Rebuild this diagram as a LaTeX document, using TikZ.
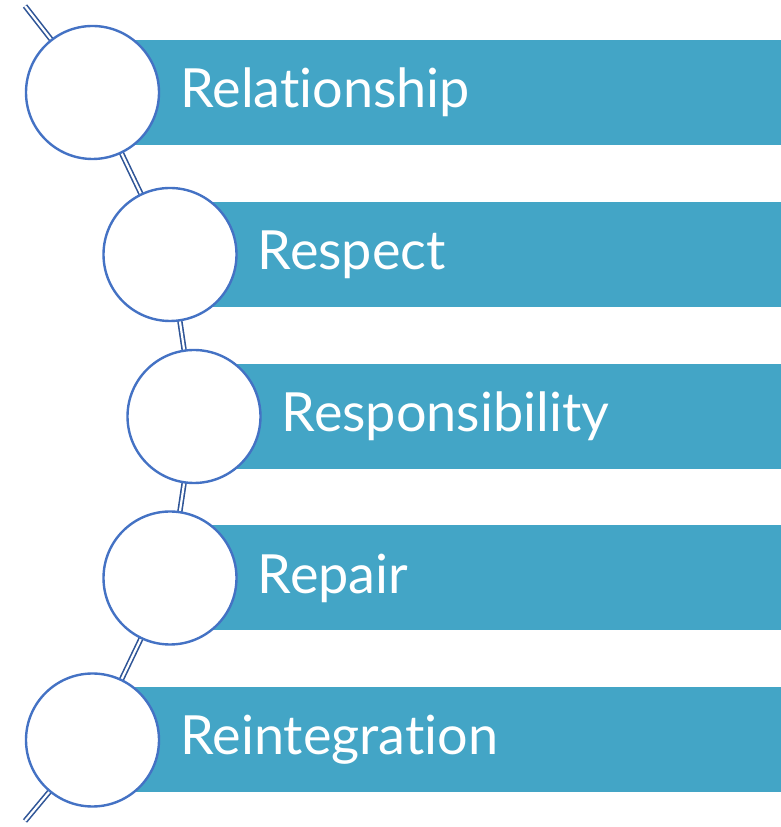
\documentclass[tikz,border=0pt]{standalone}
\usepackage{fontspec}
\setmainfont[Ligatures=NoCommon]{Lato}
\usepackage{xcolor}
\usepackage{tikz}
\usetikzlibrary{positioning, backgrounds}
\definecolor{bandteal}{RGB}{67,165,198}
\definecolor{beadblue}{RGB}{68,114,196}
\definecolor{chainblue}{RGB}{47,85,151}
\tikzset{
    band/.style={rectangle, fill=bandteal, draw=none, anchor=west, minimum height=105pt, inner sep=0pt},
    bead/.style={circle, draw=beadblue, line width=2.4pt, fill=white, minimum size=133pt, inner sep=0pt},
    word/.style={font=\fontsize{54}{60}\selectfont, text=white, anchor=west, inner sep=0pt},
    chain/.style={draw=chainblue, line width=1.6pt, double=white, double distance=2.2pt}
}

\begin{document}
\begin{tikzpicture}[x=1pt, y=1pt]
        \useasboundingbox (0,0) rectangle (781,827);
        % bands
        \node[band, minimum width=688.5pt] (Band1) at (92.5,734.5) {};
        \node[band, minimum width=611pt] (Band2) at (170,572.5) {};
        \node[band, minimum width=587pt] (Band3) at (194,410.5) {};
        \node[band, minimum width=611pt] (Band4) at (170,249) {};
        \node[band, minimum width=688.5pt] (Band5) at (92.5,87) {};

        % beads
        \node[bead] (Bead1) at (Band1.west) {};
        \node[bead] (Bead2) at (Band2.west) {};
        \node[bead] (Bead3) at (Band3.west) {};
        \node[bead] (Bead4) at (Band4.west) {};
        \node[bead] (Bead5) at (Band5.west) {};

        \node[word, right=20pt of Bead1] (Word1) {Relationship};
        \node[word, right=20pt of Bead2] (Word2) {Respect};
        \node[word, right=20pt of Bead3] (Word3) {Responsibility};
        \node[word, right=20pt of Bead4] (Word4) {Repair};
        \node[word, right=20pt of Bead5] (Word5) {Reintegration};

        \coordinate (Top) at (25,821);
        \coordinate (Bottom) at (25,6);
        \begin{scope}[on background layer]
            \draw[chain] (Top) -- (Bead1.center) -- (Bead2.center) -- (Bead3.center)
                -- (Bead4.center) -- (Bead5.center) -- (Bottom);
        \end{scope}
    \end{tikzpicture}
\end{document}
